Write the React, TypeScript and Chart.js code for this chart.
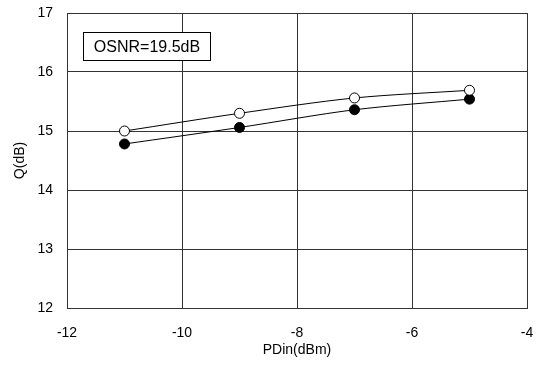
import React, { useEffect, useRef } from "react";
import { Chart, registerables } from "chart.js";

Chart.register(...registerables);

const pdin = [-11, -9, -7, -5];
const qOpen = [15.0, 15.3, 15.56, 15.69];
const qFilled = [14.78, 15.06, 15.36, 15.54];
const annotationText = "OSNR=19.5dB";
const xTitle = "PDin(dBm)";
const yTitle = "Q(dB)";

const FONT = "'Liberation Sans', Arial, sans-serif";

const boxPlugin = {
  id: "osnrBox",
  afterDatasetsDraw(chart: any) {
    const { ctx, chartArea } = chart;
    const x = chartArea.left + 16.5;
    const y = chartArea.top + 19.5;
    const w = 127;
    const h = 28;
    ctx.save();
    ctx.fillStyle = "#fff";
    ctx.fillRect(x, y, w, h);
    ctx.strokeStyle = "#000";
    ctx.lineWidth = 1;
    ctx.strokeRect(x, y, w, h);
    ctx.fillStyle = "#000";
    ctx.font = `16px ${FONT}`;
    ctx.textAlign = "center";
    ctx.textBaseline = "middle";
    ctx.fillText(annotationText, x + w / 2, y + h / 2 + 1);
    ctx.restore();
  },
};

export default function App() {
  const ref = useRef<HTMLCanvasElement>(null);
  useEffect(() => {
    if (!ref.current) return;
    const toPts = (ys: number[]) => pdin.map((x, i) => ({ x, y: ys[i] }));
    const chart = new Chart(ref.current, {
      type: "line",
      data: {
        datasets: [
          {
            data: toPts(qOpen),
            borderColor: "#000",
            borderWidth: 1,
            backgroundColor: "#fff",
            pointBackgroundColor: "#fff",
            pointBorderColor: "#000",
            pointBorderWidth: 1,
            pointRadius: 5,
            tension: 0.3,
          },
          {
            data: toPts(qFilled),
            borderColor: "#000",
            borderWidth: 1,
            backgroundColor: "#000",
            pointBackgroundColor: "#000",
            pointBorderColor: "#000",
            pointBorderWidth: 1,
            pointRadius: 5,
            tension: 0.3,
          },
        ],
      },
      options: {
        animation: false,
        responsive: false,
        devicePixelRatio: 1,
        layout: { padding: { left: 0, top: 13, right: 9, bottom: 0 } },
        plugins: { legend: { display: false }, tooltip: { enabled: false } },
        scales: {
          x: {
            type: "linear",
            min: -12,
            max: -4,
            ticks: { stepSize: 2, padding: 17, color: "#000", font: { family: FONT, size: 14 } },
            grid: { color: "#333", lineWidth: 1, drawTicks: false },
            border: { display: true, color: "#333" },
            title: { display: true, text: xTitle, color: "#000", font: { family: FONT, size: 14 }, padding: { top: 0, bottom: 6 } },
            afterFit: (s: any) => { s.height = 57; s.paddingLeft = 0; s.paddingRight = 0; },
          },
          y: {
            min: 12,
            max: 17,
            ticks: { stepSize: 1, padding: 14, color: "#000", font: { family: FONT, size: 14 } },
            grid: { color: "#333", lineWidth: 1, drawTicks: false },
            border: { display: true, color: "#333" },
            title: { display: true, text: yTitle, color: "#000", font: { family: FONT, size: 14 }, padding: { top: 12, bottom: 0 } },
            afterFit: (s: any) => { s.width = 67; s.paddingTop = 0; s.paddingBottom = 0; },
          },
        },
      },
      plugins: [boxPlugin],
    });
    return () => chart.destroy();
  }, []);
  return (
    <div style={{ position: "fixed", left: 0, top: 0, width: 536, height: 365, background: "#fff" }}>
      <canvas ref={ref} width={536} height={365} style={{ display: "block" }} />
    </div>
  );
}
